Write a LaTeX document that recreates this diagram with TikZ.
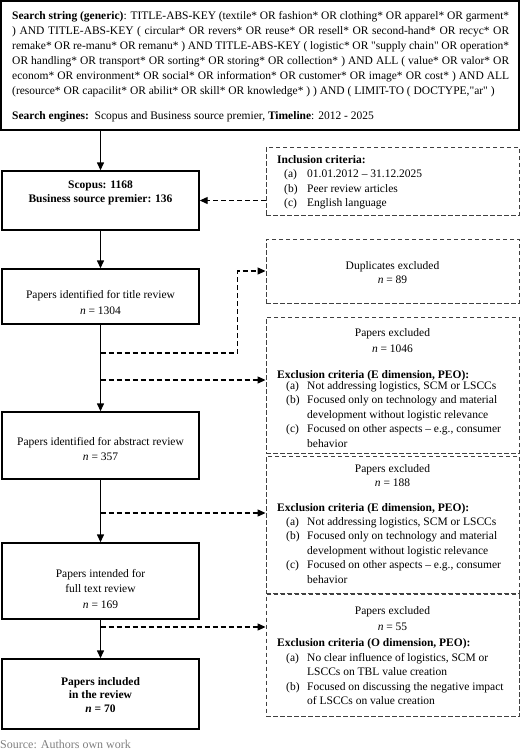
\documentclass[tikz,border=0pt]{standalone}
\usepackage{fontspec}
\setmainfont{Liberation Serif}[Ligatures=TeXOff]
\usetikzlibrary{arrows.meta}
\begin{document}
\begin{tikzpicture}[x=1pt,y=-1pt,
  solidbox/.style={draw=black, line width=1.4pt, inner sep=0pt},
  dashbox/.style={draw=black!75, line width=0.9pt, dash pattern=on 4.5pt off 2.5pt, inner sep=0pt},
  arr/.style={line width=1.4pt, -{Triangle[length=8pt,width=7pt]}},
  darr/.style={line width=1.2pt, dash pattern=on 5pt off 3pt, -{Triangle[length=8pt,width=7pt]}},
  txt/.style={inner sep=0pt, anchor=base, font=\fontsize{11.5}{14.5}\selectfont},
  ltxt/.style={txt, anchor=base west},
]
\useasboundingbox (0,0) rectangle (520,750);

% boxes
\node[solidbox, minimum width=518pt, minimum height=129pt] (top) at (260,65.5) {};
\node[solidbox, minimum width=197pt, minimum height=59pt] (scopus) at (100.5,200.5) {};
\node[solidbox, minimum width=197pt, minimum height=55pt] (title) at (100.5,296.5) {};
\node[solidbox, minimum width=197pt, minimum height=67pt] (abstract) at (100.5,445.5) {};
\node[solidbox, minimum width=197pt, minimum height=76pt] (full) at (100.5,581) {};
\node[solidbox, minimum width=197pt, minimum height=70pt] (incl) at (100.5,694) {};

\node[dashbox, minimum width=253pt, minimum height=68pt] (crit) at (392.5,181) {};
\node[dashbox, minimum width=253pt, minimum height=64pt] (dup) at (392.5,271) {};
\node[dashbox, minimum width=253pt, minimum height=136pt] (ex1) at (392.5,385) {};
\node[dashbox, minimum width=253pt, minimum height=137pt] (ex2) at (392.5,524.5) {};
\node[dashbox, minimum width=253pt, minimum height=122pt] (ex3) at (392.5,655.5) {};

% top text
\node[ltxt, font=\fontsize{11.5}{15}\selectfont] (qtxt) at (12,19.5) {\begin{tabular}[t]{@{}l@{}}
\makebox[497pt][s]{\textbf{Search string (generic)}: TITLE-ABS-KEY (textile* OR fashion* OR clothing* OR apparel* OR garment*}\\
\makebox[497pt][s]{) AND TITLE-ABS-KEY ( circular* OR revers* OR reuse* OR resell* OR second-hand* OR recyc* OR}\\
\makebox[497pt][s]{remake* OR re-manu* OR remanu* ) AND TITLE-ABS-KEY ( logistic* OR "supply chain" OR operation*}\\
\makebox[497pt][s]{OR handling* OR transport* OR sorting* OR storing* OR collection* ) AND ALL ( value* OR valor* OR}\\
\makebox[497pt][s]{econom* OR environment* OR social* OR information* OR customer* OR image* OR cost* ) AND ALL}\\
(resource* OR capacilit* OR abilit* OR skill* OR knowledge* ) ) AND ( LIMIT-TO ( DOCTYPE,"ar" )\\[9.5pt]
\textbf{Search engines:}\ \ Scopus and Business source premier, \textbf{Timeline}: 2012 - 2025
\end{tabular}};

% main box texts
\node[txt] (scopustxt) at (100.5,188) {\begin{tabular}[t]{@{}c@{}}\textbf{Scopus: 1168}\\ \textbf{Business source premier: 136}\end{tabular}};
\node[txt, font=\fontsize{11.5}{16}\selectfont] (titletxt) at (100.5,298) {\begin{tabular}[t]{@{}c@{}}Papers identified for title review\\ \textit{n} = 1304\end{tabular}};
\node[txt, font=\fontsize{11.5}{15}\selectfont] (abstracttxt) at (100.5,445) {\begin{tabular}[t]{@{}c@{}}Papers identified for abstract review\\ \textit{n} = 357\end{tabular}};
\node[txt, font=\fontsize{11.5}{15.5}\selectfont] (fulltxt) at (100.5,577) {\begin{tabular}[t]{@{}c@{}}Papers intended for\\ full text review\\ \textit{n} = 169\end{tabular}};
\node[txt, font=\fontsize{11.5}{13.8}\selectfont] (incltxt) at (100.5,685) {\begin{tabular}[t]{@{}c@{}}\textbf{Papers included}\\ \textbf{in the review}\\ \textbf{\textit{n} = 70}\end{tabular}};

% inclusion criteria
\node[ltxt] (crith) at (277,163) {\textbf{Inclusion criteria:}};
\node[ltxt] (critl) at (284,177.5) {\begin{tabular}[t]{@{}p{23pt}@{}l@{}}(a) & 01.01.2012 – 31.12.2025\\ (b) & Peer review articles\\ (c) & English language\end{tabular}};

% duplicates
\node[txt] (duptxt) at (392.5,269) {\begin{tabular}[t]{@{}c@{}}Duplicates excluded\\ \textit{n} = 89\end{tabular}};

% exclusion 1
\node[txt, font=\fontsize{11.5}{16}\selectfont] (ex1n) at (392.5,336) {\begin{tabular}[t]{@{}c@{}}Papers excluded\\ \textit{n} = 1046\end{tabular}};
\node[ltxt] (ex1h) at (277,378) {\textbf{Exclusion criteria (E dimension, PEO):}};
\node[ltxt] (ex1l) at (286,389) {\begin{tabular}[t]{@{}p{21pt}@{}l@{}}(a) & Not addressing logistics, SCM or LSCCs\\ (b) & Focused only on technology and material\\ & development without logistic relevance\\ (c) & Focused on other aspects – e.g., consumer\\ & behavior\end{tabular}};

% exclusion 2
\node[txt] (ex2n) at (392.5,472) {\begin{tabular}[t]{@{}c@{}}Papers excluded\\ \textit{n} = 188\end{tabular}};
\node[ltxt] (ex2h) at (277,511) {\textbf{Exclusion criteria (E dimension, PEO):}};
\node[ltxt] (ex2l) at (286,525) {\begin{tabular}[t]{@{}p{21pt}@{}l@{}}(a) & Not addressing logistics, SCM or LSCCs\\ (b) & Focused only on technology and material\\ & development without logistic relevance\\ (c) & Focused on other aspects – e.g., consumer\\ & behavior\end{tabular}};

% exclusion 3
\node[txt, font=\fontsize{11.5}{16}\selectfont] (ex3n) at (392.5,614) {\begin{tabular}[t]{@{}c@{}}Papers excluded\\ \textit{n} = 55\end{tabular}};
\node[ltxt] (ex3h) at (277,646) {\textbf{Exclusion criteria (O dimension, PEO):}};
\node[ltxt] (ex3l) at (286,661) {\begin{tabular}[t]{@{}p{21pt}@{}l@{}}(a) & No clear influence of logistics, SCM or\\ & LSCCs on TBL value creation\\ (b) & Focused on discussing the negative impact\\ & of LSCCs on value creation\end{tabular}};

% source
\node[ltxt, text=black!50, font=\fontsize{12}{14}\selectfont] (src) at (0,748) {Source: Authors own work};

% junction coordinates
\coordinate (j1) at (100.5,353);
\coordinate (j2) at (100.5,380);
\coordinate (j3) at (100.5,513);
\coordinate (j4) at (100.5,627);

% main flow
\draw[arr] (scopus.north |- top.south) -- (scopus.north);
\draw[arr] (scopus.south) -- (title.north);
\draw[arr] (title.south) -- (abstract.north);
\draw[arr] (abstract.south) -- (full.north);
\draw[arr] (full.south) -- (incl.north);

% dashed connectors
\draw[darr] (crit.west |- scopus.east) -- (scopus.east);
\draw[darr] (j1) -| ([xshift=-28pt]dup.west) -- (dup.west);
\draw[darr] (j2) -- (j2 -| ex1.west);
\draw[darr] (j3) -- (j3 -| ex2.west);
\draw[darr] (j4) -- (j4 -| ex3.west);
\end{tikzpicture}
\end{document}
